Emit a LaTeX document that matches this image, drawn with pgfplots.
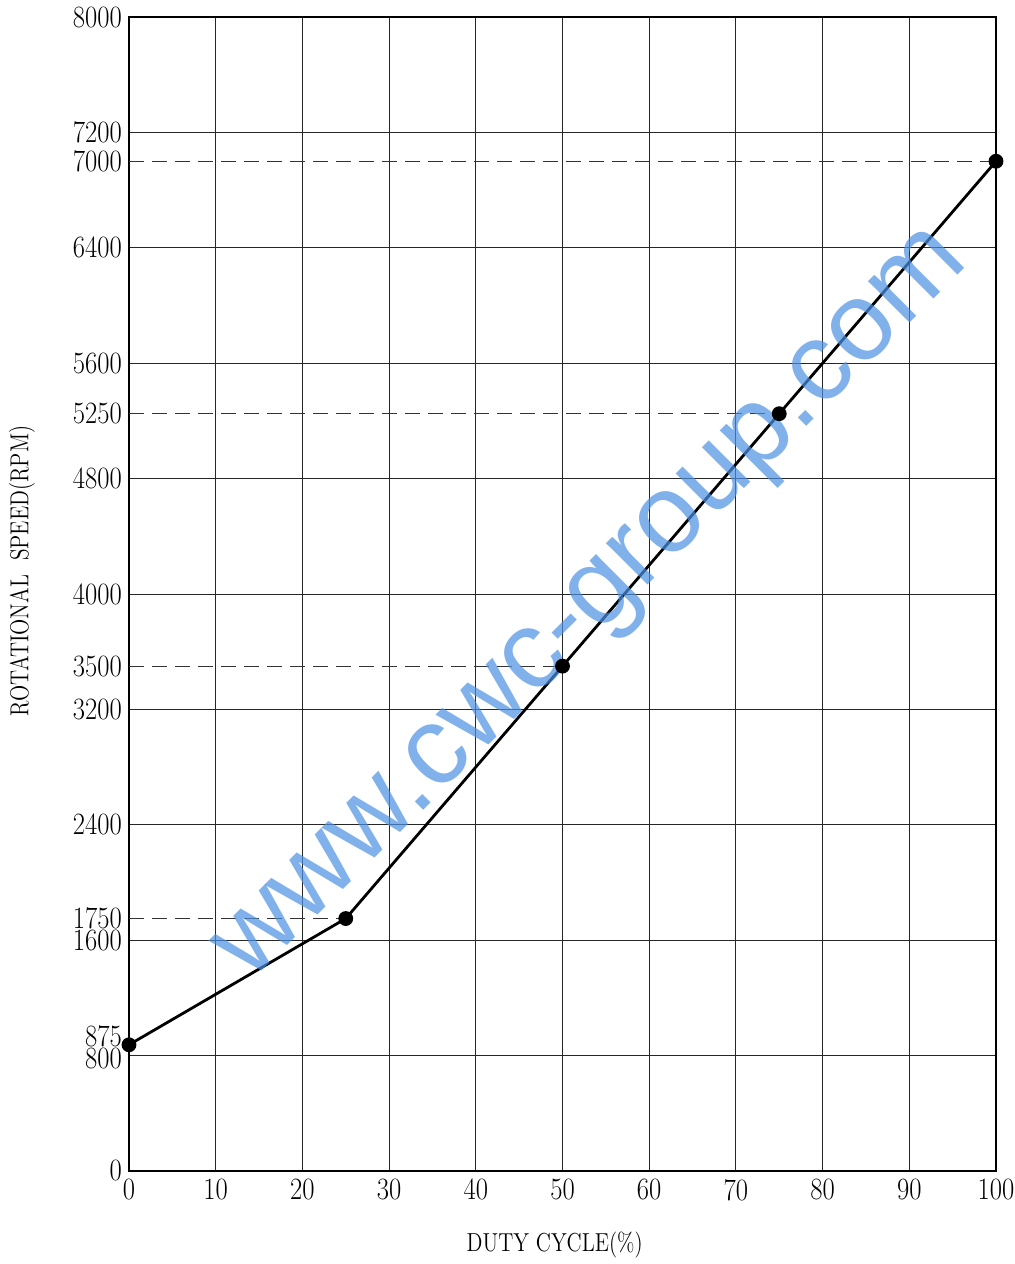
\documentclass[border=0pt]{standalone}
\usepackage{pgfplots}
\pgfplotsset{compat=1.18}
\usepackage{graphicx}
\usepackage{fontspec}
\newfontfamily\wmfont{Liberation Sans}
\newcommand\lbl[1]{\scalebox{0.86}[1]{#1}}
\definecolor{wmblue}{RGB}{74,144,226}
\begin{document}
\begin{tikzpicture}
\path[use as bounding box] (-64.5pt,-46.5pt) rectangle (442.5pt,585.5pt);
\begin{axis}[
  at={(0pt,0pt)}, anchor=south west,
  scale only axis, width=433.5pt, height=577pt,
  xmin=0, xmax=100, ymin=0, ymax=8000,
  clip=false,
  axis line style={line width=1.3pt},
  scaled y ticks=false,
  xtick={0,10,20,30,40,50,60,70,80,90,100},
  xticklabels={\lbl{0},\lbl{10},\lbl{20},\lbl{30},\lbl{40},\lbl{50},\lbl{60},\lbl{70},\lbl{80},\lbl{90},\lbl{100}},
  ytick={0,800,1600,2400,3200,4000,4800,5600,6400,7200,8000},
  yticklabels={\lbl{0},\raisebox{-1.2pt}[\height][\depth]{\lbl{800}},\lbl{1600},\lbl{2400},\lbl{3200},\lbl{4000},\lbl{4800},\lbl{5600},\lbl{6400},\lbl{7200},\lbl{8000}},
  extra y ticks={875,1750,3500,5250,7000},
  extra y tick labels={\raisebox{4.5pt}[\height][\depth]{\lbl{875}},\lbl{1750},\lbl{3500},\lbl{5250},\lbl{7000}},
  extra y tick style={grid=none, major tick length=0pt},
  grid=major,
  major grid style={black!85, line width=0.5pt},
  major tick length=0pt,
  tick label style={font=\fontsize{15.5}{17}\selectfont},
  xticklabel style={yshift=-0.5pt},
  xlabel={\scalebox{0.82}[1]{DUTY\ CYCLE(\%)}},
  ylabel={\scalebox{0.82}[1]{ROTATIONAL\ \ SPEED(RPM)}},
  xlabel style={at={(axis description cs:0.491,-0.064)}, anchor=center, font=\fontsize{13}{15}\selectfont},
  ylabel style={at={(axis description cs:-0.1234,0.52)}, anchor=center, font=\fontsize{13}{15}\selectfont},
]
\addplot[black!80, line width=0.6pt, dash pattern=on 7.5pt off 4pt] coordinates {(0,1750) (25,1750)};
\addplot[black!80, line width=0.6pt, dash pattern=on 7.5pt off 4pt] coordinates {(0,3500) (50,3500)};
\addplot[black!80, line width=0.6pt, dash pattern=on 7.5pt off 4pt] coordinates {(0,5250) (75,5250)};
\addplot[black!80, line width=0.6pt, dash pattern=on 7.5pt off 4pt] coordinates {(0,7000) (100,7000)};
\addplot[black, line width=1.4pt, mark=*, mark size=3pt, mark options={solid, fill=black}] coordinates {(0,875) (25,1750) (50,3500) (75,5250) (100,7000)};
\node[rotate=45, text=wmblue, text opacity=0.7, font=\wmfont\fontsize{55.5}{60}\selectfont] at (axis description cs:0.54,0.486) {www.cwc-group.com};
\end{axis}
\end{tikzpicture}
\end{document}
